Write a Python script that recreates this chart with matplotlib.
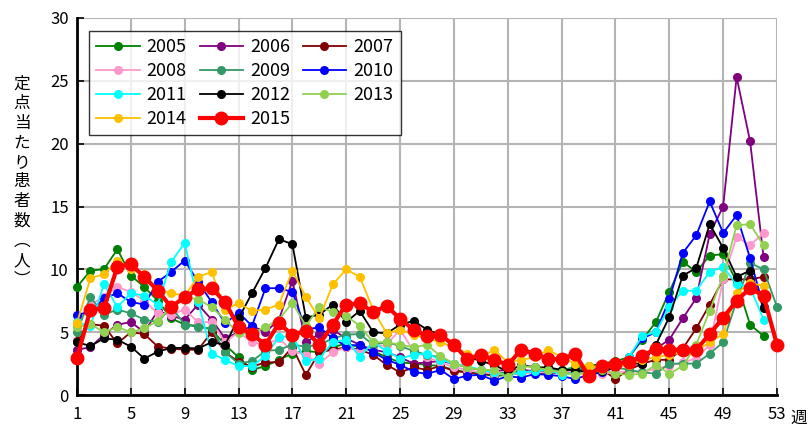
import numpy as np
import matplotlib
matplotlib.use("Agg")
import matplotlib.pyplot as plt

plt.rcParams['font.family'] = ['Noto Sans CJK JP', 'DejaVu Sans']

nan = np.nan
weeks = list(range(1, 54))

y2005 = [8.6, 9.9, 10.0, 11.6, 9.5, 8.6, 7.5, 6.1, 5.6, 5.5, 5.2, 4.0, 3.0, 2.0, 2.3, 2.8, 3.3, 3.5, 3.4, 3.8,
         4.1, 3.8, 3.5, 3.0, 2.6, 2.5, 2.4, 2.3, 2.0, 1.8, 1.7, 1.5, 1.6, 1.8, 1.9, 2.0, 2.0, 2.2, 2.3, 2.5,
         2.7, 3.0, 4.4, 5.8, 8.2, 10.6, 9.8, 11.1, 11.2, 9.0, 5.6, 4.7, nan]
y2006 = [3.6, 3.8, 4.8, 5.6, 5.8, 5.0, 6.7, 6.3, 6.0, 7.2, 6.0, 4.5, 5.0, 5.5, 5.0, 6.0, 9.1, 4.2, 4.85, 5.2,
         4.5, 4.0, 3.6, 3.4, 3.0, 2.5, 2.6, 2.7, 2.5, 2.2, 2.0, 1.9, 2.0, 2.0, 1.9, 1.8, 1.9, 2.0, 2.0, 2.2,
         2.3, 2.5, 3.0, 3.7, 4.4, 6.1, 7.7, 12.8, 15.0, 25.3, 20.2, 11.0, nan]
y2007 = [4.3, 5.65, 5.5, 4.1, 5.0, 4.85, 3.85, 3.7, 3.6, 3.6, 5.0, 3.4, 2.65, 2.25, 2.6, 2.6, 3.8, 1.6, 3.4, 3.6,
         3.8, 3.6, 3.2, 2.4, 1.8, 2.2, 2.0, 2.3, 1.9, 1.8, 1.6, 1.7, 1.8, 1.9, 1.8, 1.7, 1.8, 1.8, 1.9, 2.0,
         1.3, 2.0, 2.5, 2.8, 2.8, 3.7, 5.3, 7.2, 9.2, 9.2, 9.2, 9.4, nan]
y2008 = [5.6, 7.2, 7.8, 8.6, 8.2, 7.5, 6.5, 6.4, 6.8, 5.8, 5.8, 4.2, 5.0, 4.2, 4.0, 4.5, 3.5, 3.2, 2.5, 3.4,
         3.8, 3.5, 3.8, 4.0, 5.2, 3.5, 3.0, 2.6, 2.2, 2.0, 1.8, 1.7, 1.6, 1.7, 1.8, 1.8, 1.8, 1.9, 1.8, 1.7,
         1.8, 1.9, 1.8, 2.1, 2.3, 2.6, 2.9, 4.0, 9.2, 12.6, 11.9, 12.9, nan]
y2009 = [5.0, 7.8, 6.4, 6.8, 6.5, 6.0, 5.8, 7.0, 5.6, 5.4, 5.3, 3.4, 2.5, 2.7, 3.5, 3.6, 4.0, 3.85, 4.0, 4.5,
         4.8, 4.85, 4.0, 4.2, 3.9, 3.5, 3.2, 3.0, 2.5, 2.2, 2.0, 1.8, 1.7, 1.8, 1.9, 2.0, 2.0, 2.1, 2.1, 2.0,
         2.2, 2.0, 1.8, 1.7, 2.5, 2.5, 2.5, 3.3, 4.2, 7.5, 10.5, 10.0, 7.0]
y2010 = [6.4, 6.6, 7.7, 8.1, 7.4, 7.2, 9.0, 9.8, 10.7, 9.0, 7.4, 5.7, 6.55, 5.5, 8.5, 8.5, 8.2, 5.2, 5.4, 4.5,
         3.9, 4.0, 3.4, 2.8, 2.4, 1.86, 1.67, 2.0, 1.27, 1.54, 1.6, 1.14, 1.5, 1.38, 1.67, 1.6, 1.5, 1.27, 1.6, 1.8,
         2.2, 3.05, 4.5, 5.0, 7.6, 11.3, 12.7, 15.4, 12.9, 14.3, 10.9, 7.0, nan]
y2011 = [5.8, 5.5, 8.8, 7.0, 8.1, 7.9, 7.2, 10.6, 12.1, 7.4, 3.3, 2.8, 2.3, 2.3, 3.1, 4.6, 4.7, 2.7, 2.9, 4.2,
         4.4, 3.05, 4.2, 3.5, 2.9, 3.2, 3.3, 2.8, 2.5, 2.3, 2.0, 1.8, 1.6, 1.8, 1.9, 2.0, 1.6, 1.8, 2.0, 2.2,
         2.3, 3.0, 4.7, 5.0, 7.0, 8.3, 8.3, 9.8, 10.2, 8.8, 8.6, 6.0, nan]
y2012 = [4.2, 3.9, 4.5, 4.4, 3.85, 2.9, 3.45, 3.75, 3.75, 3.7, 4.2, 4.0, 6.1, 8.1, 10.1, 12.4, 12.0, 6.15, 6.4, 7.2,
         5.8, 6.7, 5.0, 4.9, 5.6, 5.9, 5.2, 4.8, 3.85, 3.05, 2.7, 2.4, 1.85, 2.4, 2.2, 2.2, 2.0, 2.0, 1.8, 1.9,
         2.2, 2.5, 2.5, 4.0, 6.2, 9.5, 10.1, 13.6, 11.7, 9.4, 9.9, 6.9, nan]
y2013 = [5.4, 5.65, 5.0, 5.4, 5.0, 5.3, 5.9, 7.0, 7.8, 7.6, 7.0, 6.0, 4.9, 4.9, 5.4, 6.0, 7.35, 5.5, 7.0, 6.6,
         6.3, 5.5, 4.2, 4.2, 4.0, 3.8, 4.0, 3.1, 2.5, 2.2, 2.0, 2.0, 1.4, 2.3, 2.2, 2.0, 1.8, 1.6, 1.8, 2.0,
         1.7, 1.6, 1.7, 2.4, 1.7, 2.3, 4.0, 6.7, 9.5, 13.5, 13.6, 11.9, nan]
y2014 = [5.75, 9.3, 9.6, 10.7, 10.0, 9.6, 8.4, 8.1, 7.9, 9.4, 9.8, 6.8, 7.3, 6.7, 6.8, 7.2, 9.9, 7.8, 6.1, 8.8,
         10.0, 9.4, 6.8, 4.9, 5.2, 4.8, 4.5, 4.2, 3.8, 3.3, 3.0, 3.6, 2.6, 2.8, 3.0, 3.6, 3.0, 2.5, 2.3, 2.2,
         2.3, 2.4, 2.8, 3.0, 3.2, 3.4, 3.5, 4.2, 4.85, 8.1, 8.9, 8.7, nan]
y2015 = [2.95, 6.8, 6.9, 10.2, 10.4, 9.4, 8.3, 7.0, 7.8, 8.4, 8.5, 7.4, 5.4, 4.85, 4.0, 5.7, 4.8, 5.1, 4.0, 5.6,
         7.2, 7.3, 6.6, 7.1, 6.05, 5.2, 4.7, 4.75, 4.0, 2.85, 3.2, 2.8, 2.4, 3.6, 3.3, 2.86, 2.86, 3.26, 1.54, 2.33,
         2.5, 2.65, 3.1, 3.7, 3.6, 3.6, 3.6, 4.85, 6.15, 7.5, 8.5, 7.9, 4.0]

series = [
    ("2005", y2005, "#008000"),
    ("2006", y2006, "#800080"),
    ("2007", y2007, "#800000"),
    ("2008", y2008, "#FF99CC"),
    ("2009", y2009, "#339966"),
    ("2010", y2010, "#0000FF"),
    ("2011", y2011, "#00FFFF"),
    ("2012", y2012, "#000000"),
    ("2013", y2013, "#92D050"),
    ("2014", y2014, "#FFC000"),
    ("2015", y2015, "#FF0000"),
]

xticks = list(range(1, 54, 4))
yticks = list(range(0, 31, 5))

fig = plt.figure(figsize=(8.11, 4.30), dpi=100)
ax = fig.add_axes([77/811, 1 - 395/430, 700/811, 377/430])

handles = []
for name, vals, col in series:
    if name == "2015":
        h, = ax.plot(weeks, vals, color=col, lw=3, marker='o', ms=9, label=name, zorder=5, clip_on=False)
    else:
        h, = ax.plot(weeks, vals, color=col, lw=1.3, marker='o', ms=5.5, label=name, zorder=3, clip_on=False)
    handles.append(h)

ax.set_xlim(1, 53)
ax.set_ylim(0, 30)
ax.set_xticks(xticks)
ax.set_yticks(yticks)
ax.grid(True, color='#b4b4b4', lw=1.5, zorder=0)
ax.set_axisbelow(True)
for s in ['top', 'right']:
    ax.spines[s].set_visible(False)
for s in ['left', 'bottom']:
    ax.spines[s].set_linewidth(2)
    ax.spines[s].set_color('black')
ax.tick_params(axis='both', direction='in', length=5, width=1.2, labelsize=12, colors='black')
ax.tick_params(axis='x', pad=8)
ax.tick_params(axis='y', pad=6)

# axis titles
fig.text(790/811, 1 - 418/430, "週", fontsize=12, ha='left', va='center')
ylab = "\n".join(list("定点当たり患者数︵人︶"))
fig.text(22/811, 1 - 182/430, ylab, fontsize=12, ha='center', va='center', linespacing=1.2)

# row-major legend order for 3 columns
order = [0, 3, 6, 9, 1, 4, 7, 10, 2, 5, 8]
leg = ax.legend([handles[i] for i in order], [series[i][0] for i in order],
                ncol=3, loc='upper left', bbox_to_anchor=(89/811, 1 - 31/430),
                bbox_transform=fig.transFigure, fontsize=13, frameon=True, fancybox=False,
                edgecolor='black', handlelength=2.4, columnspacing=0.7, handletextpad=0.4,
                borderpad=0.4, labelspacing=0.33, borderaxespad=0)
leg.get_frame().set_linewidth(1.0)
leg.set_zorder(10)

fig.savefig("out.png", dpi=100)
